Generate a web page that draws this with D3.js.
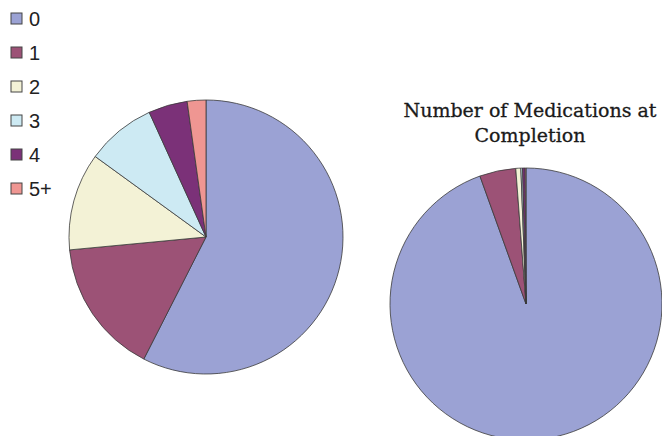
<!DOCTYPE html>
<html><head><meta charset="utf-8">
<script src="https://cdn.jsdelivr.net/npm/d3@7"></script>
<style>body{margin:0;background:#fff}</style>
</head><body>
<svg id="c" width="662" height="436"></svg>
<script>
const categories = ["0","1","2","3","4","5+"];
const colors = ["#9ba2d4","#9c5276","#f3f2d6","#cdeaf3","#7b3178","#ef9692"];
const startValues = [57.5, 16.0, 11.5, 8.2, 4.6, 2.2];
const completionValues = [94.5, 4.3, 0.6, 0.2, 0.3, 0.1];
const titleLines = ["Number of Medications at", "Completion"];

const svg = d3.select("#c");
const pie = d3.pie().sort(null).value(d => d);
const color = d3.scaleOrdinal().domain(categories).range(colors);

function drawPie(values, cx, cy, r) {
  const arc = d3.arc().innerRadius(0).outerRadius(r);
  const g = svg.append("g").attr("transform", `translate(${cx},${cy})`);
  g.selectAll("path").data(pie(values)).join("path")
    .attr("d", arc)
    .attr("fill", (d, i) => color(categories[i]))
    .attr("stroke", "#3a3a3a")
    .attr("stroke-width", 0.8)
    .attr("stroke-linejoin", "round");
}
drawPie(startValues, 206, 237, 137);
drawPie(completionValues, 526, 304, 136);

// title
svg.append("text")
  .attr("x", 530).attr("y", 117)
  .attr("text-anchor", "middle")
  .attr("font-family", "DejaVu Serif")
  .attr("font-size", 19)
  .attr("fill", "#1a1a1a")
  .attr("stroke", "#1a1a1a").attr("stroke-width", 0.3)
  .selectAll("tspan").data(titleLines).join("tspan")
  .attr("x", 530).attr("dy", (d, i) => i === 0 ? 0 : 25)
  .text(d => d);

// legend
const leg = svg.append("g");
const items = leg.selectAll("g").data(categories).join("g")
  .attr("transform", (d, i) => `translate(11,${13 + i * 34})`);
items.append("rect").attr("width", 11).attr("height", 11)
  .attr("fill", d => color(d)).attr("stroke", "#444").attr("stroke-width", 1);
items.append("text").attr("x", 18).attr("y", 13)
  .attr("font-family", "Liberation Sans, Arial").attr("font-size", 20)
  .attr("fill", "#222").text(d => d);
</script>
</body></html>
